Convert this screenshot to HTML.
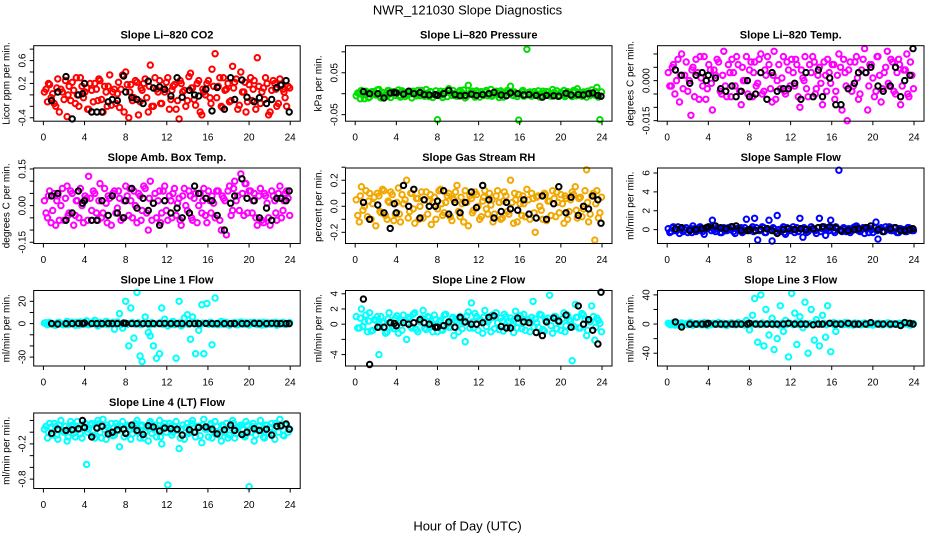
<!DOCTYPE html>
<html><head><meta charset="utf-8">
<style>
html,body{margin:0;padding:0;background:#fff;}
svg{display:block;font-family:"Liberation Sans",Arial,sans-serif;}
</style></head>
<body>
<svg id="chart" width="936" height="540" viewBox="0 0 936 540">
<rect x="0" y="0" width="936" height="540" fill="#fff"/>
<text x="467.5" y="14.5" font-size="13" text-anchor="middle">NWR_121030  Slope Diagnostics</text>
<text x="467.5" y="530.5" font-size="13" text-anchor="middle">Hour of Day (UTC)</text>
</svg>
<script>
// shared sampling hours (colored series) and reference (black) hours
const hoursColored = [0.1,0.4,0.6,0.9,1.2,1.4,1.7,2.0,2.3,2.5,2.8,3.1,3.3,3.6,3.9,4.2,4.4,4.7,5.0,5.3,5.5,5.8,6.1,6.3,6.6,6.9,7.2,7.4,7.7,8.0,8.3,8.5,8.8,9.1,9.4,9.6,9.9,10.2,10.4,10.7,11.0,11.3,11.5,11.8,12.1,12.4,12.6,12.9,13.2,13.4,13.7,14.0,14.3,14.5,14.8,15.1,15.4,15.6,15.9,16.2,16.4,16.7,17.0,17.3,17.5,17.8,18.1,18.4,18.6,18.9,19.2,19.5,19.7,20.0,20.3,20.5,20.8,21.1,21.4,21.6,21.9,22.2,22.5,22.7,23.0,23.3,23.5,23.8];
const hoursColored2 = [0.25,0.5,0.75,1.05,1.3,1.55,1.85,2.15,2.4,2.65,2.95,3.2,3.45,3.75,4.05,4.3,4.55,4.85,5.15,5.4,5.65,5.95,6.2,6.45,6.75,7.05,7.3,7.55,7.85,8.15,8.4,8.65,8.95,9.25,9.5,9.75,10.05,10.3,10.55,10.85,11.15,11.4,11.65,11.95,12.25,12.5,12.75,13.05,13.3,13.55,13.85,14.15,14.4,14.65,14.95,15.25,15.5,15.75,16.05,16.3,16.55,16.85,17.15,17.4,17.65,17.95,18.25,18.5,18.75,19.05,19.35,19.6,19.85,20.15,20.4,20.65,20.95,21.25,21.5,21.75,22.05,22.35,22.6,22.85,23.15,23.4,23.65,23.95];
const hoursBlack = [0.8,1.4,2.2,2.8,3.4,3.8,4.0,4.7,5.2,5.7,6.3,6.7,7.2,7.8,8.0,8.6,9.1,9.7,10.2,10.7,11.3,11.8,12.4,13.0,13.5,14.2,14.7,15.1,15.8,16.4,16.9,17.6,18.2,18.6,19.3,19.8,20.5,21.0,21.7,22.2,22.7,23.1,23.6,23.9];
const xTicks = [0,4,8,12,16,20,24];

const co2A = [.05,-.12,.18,.02,-.2,.28,.1,-.08,-.38,.15,.22,-.15,.0,.3,-.05,.12,-.25,.08,.2,-.1,.25,-.3,.05,.15,-.18,.1,.02,-.22,.35,.4,-.4,.18,-.05,.22,-.12,.08,.28,-.3,.52,-.2,.1,.25,-.15,.05,.3,-.08,.15,-.25,-.42,.2,.08,-.1,.38,.12,-.18,.25,-.35,.05,.2,-.05,.45,.72,.15,-.2,.3,.1,-.12,.5,.22,-.25,.4,.05,-.3,.18,-.1,.25,.65,-.15,.12,.3,-.35,.08,.2,-.2,.28,.1,-.05,.15];
const co2B = [.1,.2,-.05,-.15,.12,-.3,.05,.25,.0,-.1,.08,.3,-.2,.15,.05,-.25,.2,-.12,.1,.28,-.08,.15,-.2,.35,.05,-.15,.22,.1,-.3,.18,.05,-.1,.25,-.35,.12,.2,-.05,.15,-.2,.3,.05,-.15,.1,.22,-.25,.08,.18,-.1,.25,.05,-.2,.32,.12,-.08,.2,-.3,.1,.0,.25,-.15,.15,-.05,.3,-.22,.08,.2,-.1,.12,.28,-.18,.05,.22,-.12,.3,.1,-.25,.15,.05,-.08,.2,-.3,.25,.1,-.15,.18,.05,-.2,.12];
const co2Ref = [-.1,.05,.32,-.42,.0,.02,.2,-.3,-.3,-.3,-.12,-.08,-.1,.33,.05,-.05,-.08,-.15,.24,.12,.14,.1,-.02,.3,-.04,.08,.0,-.02,.1,-.28,.13,-.25,.3,-.08,.26,-.04,-.12,-.05,-.15,-.08,.13,.17,.25,-.3];

const presA = [-.005,.0,.008,-.012,.003,-.008,.005,-.003,.01,-.01,.002,-.006,.007,.0,-.004,.009,-.008,.004,-.002,.006,-.01,.003,.008,-.005,.0,.01,-.007,.004,-.002,-.062,.006,-.009,.003,.012,-.004,.0,-.006,.008,.002,-.01,.02,.005,-.003,.007,-.008,.0,.004,-.005,.01,-.002,.006,-.009,.003,.0,.008,.018,-.004,.002,-.063,.005,-.006,.106,.004,-.003,.0,.007,-.008,.002,.005,-.005,.01,.0,-.006,.003,.008,-.004,.002,-.007,.006,.012,-.002,.004,-.008,.0,.009,-.003,.015,-.062];
const presB = [.002,-.012,-.003,.006,-.01,.004,.0,.009,-.006,.003,-.002,.008,-.009,.005,.002,-.004,.007,-.007,.003,.0,.006,-.005,-.002,.008,-.006,.002,.005,-.009,.007,.0,-.003,.005,-.007,.002,.008,-.005,.004,-.002,.009,-.006,.0,.006,-.008,.003,.005,-.004,.008,.0,-.006,.004,-.002,.007,-.008,.002,.006,-.003,.004,-.007,.001,.008,-.004,.003,-.006,.005,.0,-.008,.006,-.002,.004,-.006,.003,.007,-.004,.0,-.007,.005,-.002,.008,-.005,.003,-.006,.002,.006,-.004,.0,.005,-.008,.004];
const presRef = [.005,.0,.0,-.01,.002,.003,.002,-.001,.006,.0,.003,-.002,-.003,-.002,-.004,.0,.008,-.002,-.005,-.004,-.001,-.004,-.002,.0,.003,-.003,-.005,.002,.0,-.003,-.002,-.004,-.008,-.004,-.005,-.006,.001,-.003,-.002,-.003,.0,.002,-.004,-.006];

const tempA = [.003,-.002,.006,.0,-.008,.01,.002,-.004,-.013,.005,.008,-.007,.001,.009,-.003,.004,-.011,.002,.007,-.005,.011,-.006,.003,.008,-.002,.006,-.009,.0,.009,.004,-.006,.007,-.001,.01,-.004,.002,.006,-.008,.011,.0,-.003,.009,-.005,.004,.008,-.002,.006,-.01,.001,.009,-.006,.003,.007,-.003,.005,-.009,.002,.008,-.001,.006,-.004,.01,-.011,.003,-.015,.007,-.002,.009,-.007,.004,.012,-.011,.006,.001,-.004,.009,-.008,.003,.011,-.002,.007,-.005,.008,-.009,.004,.01,-.006,.002];
const tempB = [-.002,.005,-.005,.008,.002,-.003,.007,.0,.004,-.006,.003,.009,-.002,-.007,.006,-.001,.004,.008,-.004,.002,-.002,.006,-.006,.003,.009,-.004,.005,.0,-.005,.007,.003,-.002,.008,-.005,.004,.009,-.003,.002,-.007,.006,.001,-.004,.007,-.002,.003,.008,-.006,.004,.0,-.003,.006,.009,-.005,.002,-.001,.007,-.004,.003,.006,-.007,.002,.005,.008,-.002,.004,-.004,.007,.001,-.005,.008,.003,-.002,.006,-.006,.009,.002,-.003,.005,-.001,.008,-.004,.003,.006,-.002,.004,-.005,.007,-.003];
const tempRef = [.004,.002,-.001,.002,.003,.0,.002,.001,-.003,-.004,-.002,-.006,-.004,.0,-.006,-.005,.003,-.007,.003,-.004,-.003,-.003,-.001,-.007,.003,-.006,.004,-.006,.001,-.009,-.009,-.003,-.001,.003,.003,.005,-.002,-.004,-.002,.005,-.006,.0,.002,.012];

const boxA = [.02,-.05,.06,-.02,-.08,.04,.0,-.06,.08,-.03,.05,-.04,.02,.07,-.07,.03,.12,-.02,.05,-.06,.09,-.03,.01,.04,-.08,.06,-.01,.03,-.05,.08,-.04,.02,.06,-.07,.04,-.02,.07,-.1,.1,.01,-.05,.06,-.03,.08,-.06,.02,.05,-.04,.03,-.08,.07,-.02,.04,-.06,.05,.0,-.03,.07,-.07,.02,.04,-.05,.06,-.1,.03,-.12,.08,-.02,.1,.04,.13,-.04,.09,.06,-.03,.05,-.08,.07,-.07,.04,-.05,.06,.02,-.06,.08,-.02,.05,.03];
const boxB = [-.03,.04,-.07,.05,.02,-.06,.07,.03,-.04,.06,-.08,.02,-.05,.0,.04,-.06,.03,.06,-.03,.02,-.05,.07,-.07,.03,.05,-.03,.06,-.06,.02,.04,.07,-.05,.0,.05,-.06,.08,-.03,.03,-.06,.05,.02,-.07,.06,-.02,.04,-.05,.07,.01,-.06,.04,.0,.06,-.05,.03,-.07,.05,.02,-.04,.06,-.03,.01,.06,-.06,.04,.02,.06,-.04,.07,.02,-.02,.05,.09,-.03,.06,.02,-.05,.04,-.06,.05,.01,-.08,.04,-.03,.05,-.05,.02,.06,-.04];
const boxRef = [.04,.05,-.06,-.03,.06,.01,.02,-.06,-.06,.02,-.04,.04,-.03,-.05,.02,.07,-.01,.03,-.02,.01,-.08,.02,-.03,-.01,-.05,-.03,.08,.05,.03,.02,-.04,-.1,.01,.04,.11,.03,.02,-.05,-.01,-.06,.03,.03,.02,.06];

const rhA = [.05,-.12,.15,.0,-.08,.1,.02,-.15,.08,-.05,.12,-.1,.03,.09,-.06,.14,-.12,.02,.2,-.04,.1,-.13,.06,.0,-.09,.11,.04,-.14,.07,-.02,.13,-.07,.03,.1,-.11,.05,.16,-.08,.02,.12,-.15,.06,-.03,.09,-.1,.04,.12,-.06,.01,-.12,.08,.03,-.09,.11,-.04,.2,-.13,.05,.09,-.07,.02,.13,-.1,.06,-.2,.08,-.03,.1,-.11,.04,.12,-.08,.03,.09,-.13,.06,-.04,.11,.15,-.09,.07,-.02,.28,-.12,.08,-.26,.12,-.05];
const rhB = [-.07,.08,-.03,.12,.04,-.1,.07,.1,-.04,.13,-.07,.04,.11,-.11,.03,-.06,.09,.05,-.09,.1,-.02,.06,-.1,.11,.05,-.06,.09,.03,-.1,.12,.02,-.05,.08,-.08,.06,.11,-.04,.07,-.12,.03,.08,-.05,.11,.0,-.08,.07,-.02,.1,.05,-.06,.12,-.1,.04,.08,-.06,.03,.1,-.12,.02,.08,-.08,.05,.1,-.05,.07,.0,-.1,.09,.04,-.07,.06,.11,-.05,.02,.08,-.1,.05,.09,-.03,.06,-.08,.12,.03,-.06,.1,.02,-.09,.07];
const rhRef = [.03,-.1,.01,-.05,-.17,.02,-.05,.16,.0,.13,-.09,.05,.0,.0,.04,.12,-.06,.03,-.05,.03,.11,-.01,.16,.05,-.09,-.04,.03,-.02,-.03,.05,-.06,-.09,.08,-.1,.02,.15,-.05,.07,-.07,.0,-.02,.08,.05,-.13];

const flowA = [.1,-.2,.3,-.1,-.4,.2,.0,-.3,.1,.4,-.2,.0,.2,-.5,.1,.3,1.0,-.2,.1,-.3,.2,-.1,.0,.3,-.4,.1,.2,-.2,1.1,-.1,.3,1.2,-1.1,.0,.2,-.3,1.0,-1.2,.1,1.5,-.2,.3,-.5,.1,.0,-.3,.2,1.2,-.8,.1,-.2,.3,.0,-.4,1.2,.1,-.6,.2,1.0,-.1,.3,6.3,-.2,.1,.0,-.3,.2,.4,-.1,.0,-.4,.2,.1,-.3,.8,-1.0,.2,-.2,.0,.3,-.1,.2,-.3,.1,.0,-.2,.2,-.1];
const flowB = [-.3,.2,-.1,.3,.1,-.2,.2,.0,-.3,.1,-.1,.3,-.2,.1,.2,-.1,.0,.2,-.3,.1,-.1,.2,.3,-.2,.1,.0,-.3,.2,.0,.1,-.2,.2,-.1,.3,-.3,.1,.0,.2,-.2,.0,.1,-.3,.2,-.1,.3,.0,-.2,.1,.2,-.3,.0,.1,-.1,.2,-.2,.3,.0,-.1,.2,-.3,.1,.0,.2,-.2,.1,-.1,.3,.0,-.2,.2,.1,-.3,.0,.2,-.1,.1,-.2,.3,.0,-.1,.2,-.3,.1,.0,-.2,.2,.1,-.1];
const flowRef = [.1,.2,-.1,.0,.1,.2,.3,.4,.2,.1,.3,.4,-.1,-.1,.0,-.1,.0,.1,-.1,-.4,.0,.1,.0,.1,.0,.1,.2,.3,.3,.2,-.1,-.1,.0,.1,.2,.4,.0,-.2,.1,.2,-.1,-.1,.0,.1];

const line1A = [.5,-1,1,-.5,-1.5,.8,0,-1,2,-.5,1.2,-1.5,.3,1.5,-.8,2.5,-1,.5,3,-2,1,-.5,2,-1,.5,-5,1.5,9,-4,20,-20,14,-13,28,-29,-34,6,-8,-11,-20,-31,-27,14,4,-2,-.5,2,-31,20,-2,5,8,-14,6,-27,-6,17,-27,18,1,-19,23,-1,2,-.5,1,-1.5,.5,1,-1,1.5,-.5,.8,-1.2,.3,1,-.8,.5,1.2,-1,.6,-.4,1,-1.5,.5,1.2,-.8,.3];
const line1B = [.8,-.3,.5,-1.2,.2,1,-.8,.4,-1,.7,-.2,1,-1.3,.5,.9,-.6,.2,1.2,-.9,.3,-.5,1,-.7,.4,1.2,-.3,.7,-1,.5,-.8,.2,1,-.5,.8,-1,.3,.6,-1.2,.9,-.4,.2,1,-.7,.5,-.3,1.2,-.9,.4,.7,-1,.3,-.5,1,-.2,.8,-1.1,.5,.2,-.6,1,-.8,.3,.7,-.4,1.1,-.9,.2,.5,-1,.8,-.3,.6,-.7,1,.2,-.5,.9,-1.2,.4,.7,-.6,.3,1,-.8,.2,.5,-.4,.9];
const line1Ref = [0,-.3,0,0,.2,0,.5,0,0,0,.2,0,0,.5,.3,0,0,0,0,0,0,.2,0,0,0,0,0,0,.2,0,0,0,0,0,0,0,.3,0,0,.3,0,0,0,0];

const line2A = [1,-.5,2,.3,-1,1.5,-.8,.5,-4,1,.2,-1,1.5,-.3,.8,-1.2,.5,1.2,-2,.7,-.5,1.5,-1,.3,1.8,-.7,.9,-.2,1.2,-1,.5,-.8,1.3,-.4,.7,-1.5,.2,1,-.6,-2.3,1.6,2.8,-.5,1,.6,-1.2,1.8,.3,-1,.9,1.5,-.7,.4,1.3,-.3,.8,-1.1,1.7,.2,-.6,1.3,.5,-1,3,.7,-.4,1.2,-.9,.5,3.8,-1.2,1,.4,-.8,1.5,-.2,.6,-4.8,2.6,.9,-.5,1.2,-1.5,.4,2.4,-2.1,.8,.1];
const line2B = [-.5,.8,-.3,1.2,.4,-.9,.6,1,-.4,.2,-1.2,.7,.3,-.6,1.1,.2,-.8,.5,.9,-.3,1.3,-.7,.4,.8,-.5,1,.1,-1,.6,.3,-.7,1.2,.0,-.4,.9,.5,-1,.7,.2,1.1,-.5,.3,1.4,-.8,.5,.9,-.3,.6,1.2,-.6,.2,.8,-.9,1,.4,-.2,.7,-.5,1.1,.3,-.8,.6,.9,-.4,.2,1.3,-.7,.5,.8,-.2,1,-.6,.3,.7,-1,1.2,.4,-.3,.9,-.5,1.4,.6,-.8,.3,1,-.4,.5,-1];
const line2Ref = [3.3,-5.3,-.4,-.4,.2,.1,-.2,.2,.0,.2,.6,.2,.0,-.4,-.4,-.2,.3,-.4,.9,.3,.0,.0,.2,.9,1.1,-.3,-.5,-.5,.8,.3,.2,-1.1,-1.5,.3,.8,.4,1.2,-.4,2.4,.0,.6,-.8,-2.6,4.2];

const line3A = [1,-1,2,-.5,-2,1.5,0,-1,2,-1.5,.5,1,-1,2,-2,.5,1,-.5,2,-1,1,-2,.5,1.5,-1,2,-.5,1,5,-8,12,35,-25,40,-30,20,-15,8,-35,-20,25,-10,5,-45,42,15,-28,10,-5,30,-40,20,-22,6,-30,12,-18,25,-38,2,-10,1,-1,2,-.5,1,-1.5,.5,1,-1,1.5,-.5,1,-1.5,.5,1,-1,.5,1.5,-1,.5,-.5,1,-1.5,.5,1.5,-1,.5];
const line3B = [-.5,1,-1.5,.5,1,-1,.5,1.5,-1,.5,-.5,1,-1,1.5,.5,-1,1,-.5,.5,1,-1,.5,1.5,-.5,-1,1,.5,-1.5,1,-.5,.5,1,-1,1.5,-.5,.5,1,-1,.5,-1.5,1,.5,-.5,1,-1,1.5,-.5,.5,1,-1,.5,-1,1.5,.5,-.5,1,-1,.5,1,-1.5,.5,1,-.5,1,-1,.5,1.5,-.5,-1,1,.5,-1,1,-.5,.5,1,-1,.5,1.5,-1,.5,-.5,1,-1,.5,1,-1.5,.5];
const line3Ref = [3,-4,0,0,0,0,1,0,0,0,0,0,0,0,1,0,0,0,0,0,0,1,0,0,0,-1,0,0,1,0,0,1,0,0,0,2,0,0,0,0,-2,2,1,0];

const line4A = [.05,-.1,.15,-.05,.1,-.12,.2,.0,-.15,.08,.12,-.08,.18,-.03,.1,-.55,.05,.15,-.1,.2,.0,.22,-.12,.08,.15,-.05,.1,-.25,.18,-.02,.1,-.12,.05,.2,-.1,.12,.0,-.15,.18,.05,-.08,.2,-.2,.15,-.9,.1,.0,.18,-.28,.05,-.12,.15,.0,.2,-.08,.1,-.18,.22,.05,.12,-.1,.18,.0,-.15,.1,.15,-.05,.2,-.1,.08,.12,-.05,.18,-.93,.1,-.15,.05,.2,-.08,.12,.0,.15,-.12,.1,.22,-.05,.12,.0];
const line4B = [.1,.0,.08,.15,-.05,.12,.02,.1,-.08,.18,-.02,.1,.05,-.1,.15,.0,.12,-.05,.08,.15,-.1,.05,.12,.0,-.06,.15,.03,.1,-.08,.12,.05,-.03,.15,.0,.1,-.1,.08,.15,-.02,.12,.05,-.08,.1,.0,.15,-.05,.1,.03,-.1,.12,.08,-.02,.15,.0,.1,-.06,.12,.05,-.08,.15,.02,.1,-.05,.12,.0,-.1,.08,.15,-.02,.1,.05,-.08,.12,.0,.15,-.05,.1,.03,-.1,.12,.08,-.02,.15,.0,.1,-.06,.12,.05];
const line4Ref = [-.02,.05,.03,.04,.06,.2,.08,-.08,.07,.1,-.03,.0,.04,.05,-.02,.12,.03,-.04,.11,.09,.02,.07,.06,.05,-.05,.04,.0,.08,.09,.05,-.03,.04,.12,.03,-.04,.0,.06,.03,.05,-.05,.1,.11,.14,.05];

// y-axis tick values and printed labels
const co2Ticks = [-0.4,-0.2,0,0.2,0.4,0.6,0.8], co2Labels = ["-0.4","","","0.2","","0.6",""];
const presTicks = [-0.05,0,0.05,0.1], presLabels = ["-0.05","","0.05",""];
const tempTicks = [-0.015,-0.01,-0.005,0,0.005,0.01], tempLabels = ["-0.015","","","0.000","",""];
const boxTicks = [-0.15,-0.1,-0.05,0,0.05,0.1,0.15], boxLabels = ["-0.15","","","0.00","","","0.15"];
const rhTicks = [-0.2,-0.1,0,0.1,0.2,0.3], rhLabels = ["-0.2","","0.0","","0.2",""];
const flowTicks = [0,2,4,6], flowLabels = ["0","2","4","6"];
const line1Ticks = [-30,-20,-10,0,10,20], line1Labels = ["-30","","","0","","20"];
const line2Ticks = [-4,-2,0,2,4], line2Labels = ["-4","","0","2","4"];
const line3Ticks = [-40,-20,0,20,40], line3Labels = ["-40","","0","","40"];
const line4Ticks = [-0.8,-0.6,-0.4,-0.2,0,0.2], line4Labels = ["-0.8","","","-0.2","",""];

const NS = "http://www.w3.org/2000/svg";
const svg = document.getElementById("chart");
const colLeft = [33.7, 345.5, 657.5];
const rowTop = [45.7, 168, 290.5, 413];
const boxW = 266.5, boxH = 75.5;

function mk(tag, attrs, parent) {
  const e = document.createElementNS(NS, tag);
  for (const k in attrs) e.setAttribute(k, attrs[k]);
  (parent || svg).appendChild(e);
  return e;
}

const panels = [
  {key:"co2", col:0,row:0,title:"Slope Li\u2013820 CO2",ylab:"Licor ppm per min.",color:"#ff0000",ymin:-0.46,ymax:0.86,a:co2A,b:co2B,ref:co2Ref,ticks:co2Ticks,labels:co2Labels},
  {key:"pressure", col:1,row:0,title:"Slope Li\u2013820 Pressure",ylab:"kPa per min.",color:"#00e000",ymin:-0.0656,ymax:0.1146,a:presA,b:presB,ref:presRef,ticks:presTicks,labels:presLabels},
  {key:"li820-temp", col:2,row:0,title:"Slope Li\u2013820 Temp.",ylab:"degrees C per min.",color:"#ff00ff",ymin:-0.0152,ymax:0.0131,a:tempA,b:tempB,ref:tempRef,ticks:tempTicks,labels:tempLabels},
  {key:"box-temp", col:0,row:1,title:"Slope Amb. Box Temp.",ylab:"degrees C per min.",color:"#ff00ff",ymin:-0.155,ymax:0.154,a:boxA,b:boxB,ref:boxRef,ticks:boxTicks,labels:boxLabels},
  {key:"gas-rh", col:1,row:1,title:"Slope Gas Stream RH",ylab:"percent per min.",color:"#f2a800",ymin:-0.286,ymax:0.294,a:rhA,b:rhB,ref:rhRef,ticks:rhTicks,labels:rhLabels},
  {key:"sample-flow", col:2,row:1,title:"Slope Sample Flow",ylab:"ml/min per min.",color:"#0000ff",ymin:-1.47,ymax:6.53,a:flowA,b:flowB,ref:flowRef,ticks:flowTicks,labels:flowLabels},
  {key:"line1-flow", col:0,row:2,title:"Slope Line 1 Flow",ylab:"ml/min per min.",color:"#00ffff",ymin:-38,ymax:29.7,a:line1A,b:line1B,ref:line1Ref,ticks:line1Ticks,labels:line1Labels},
  {key:"line2-flow", col:1,row:2,title:"Slope Line 2 Flow",ylab:"ml/min per min.",color:"#00ffff",ymin:-5.5,ymax:4.43,a:line2A,b:line2B,ref:line2Ref,ticks:line2Ticks,labels:line2Labels},
  {key:"line3-flow", col:2,row:2,title:"Slope Line 3 Flow",ylab:"ml/min per min.",color:"#00ffff",ymin:-57.5,ymax:46,a:line3A,b:line3B,ref:line3Ref,ticks:line3Ticks,labels:line3Labels},
  {key:"line4-flow", col:0,row:3,title:"Slope Line 4 (LT) Flow",ylab:"ml/min per min.",color:"#00ffff",ymin:-0.96,ymax:0.327,a:line4A,b:line4B,ref:line4Ref,ticks:line4Ticks,labels:line4Labels}
];

panels.forEach(p => {
  const L = colLeft[p.col], T = rowTop[p.row], R = L + boxW, B = T + boxH;
  const xs = h => (L + 9.7) + (h / 24) * (boxW - 19.7);
  const ys = v => B - (v - p.ymin) / (p.ymax - p.ymin) * boxH;
  const g = mk("g", {});
  
  

  const title = mk("text", {x:(L+R)/2, y:T-7, "font-size":"11", "font-weight":"bold", "text-anchor":"middle"}, g);
  title.textContent = p.title;
  
  

  const yl = mk("text", {x:0, y:0, "font-size":"10", "text-anchor":"middle", transform:`translate(${L-24},${(T+B)/2}) rotate(-90)`}, g);
  yl.textContent = p.ylab;
  
  

  const plot = mk("g", {}, g);
  
  
  const drawSet = (hrs, vals, color, nm) => {
    const n = Math.min(hrs.length, vals.length);
    for (let i = 0; i < n; i++) {
      const c = mk("circle", {cx:xs(hrs[i]).toFixed(1), cy:ys(vals[i]).toFixed(1), r:"2.7", fill:"none", stroke:color, "stroke-width":"2"}, plot);
      
      
    }
  };
  drawSet(hoursColored, p.a, p.color, p.key + '-point');
  drawSet(hoursColored2, p.b, p.color, p.key + '-point');
  drawSet(hoursBlack, p.ref, "#000", p.key + '-reference-point');

  const frame = mk("rect", {x:L, y:T, width:boxW, height:boxH, fill:"none", stroke:"#000", "stroke-width":"1"}, g);
  
  

  xTicks.forEach(t => {
    const x = xs(t);
    const tk = mk("line", {x1:x, y1:B, x2:x, y2:B+4, stroke:"#000"}, g);
    
    
    const lb = mk("text", {x:x, y:B+19.5, "font-size":"10", "text-anchor":"middle"}, g);
    lb.textContent = t;
    
    
  });
  p.ticks.forEach((t, i) => {
    const y = ys(t);
    const tk = mk("line", {x1:L-4, y1:y, x2:L, y2:y, stroke:"#000"}, g);
    
    
    if (p.labels[i]) {
      const lb = mk("text", {x:0, y:0, "font-size":"10", "text-anchor":"middle", transform:`translate(${L-8},${y}) rotate(-90)`}, g);
      lb.textContent = p.labels[i];
      
      
    }
  });
});
</script>
</body></html>
